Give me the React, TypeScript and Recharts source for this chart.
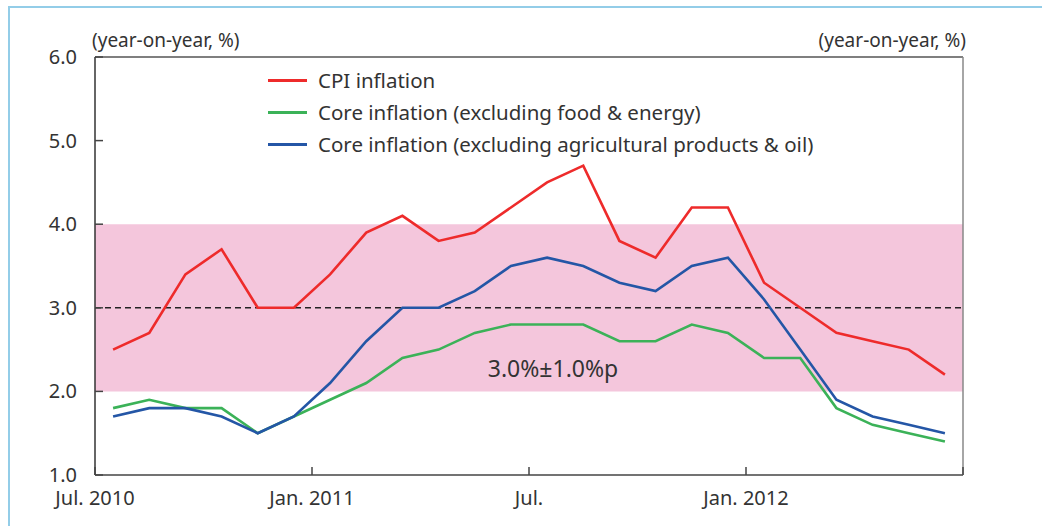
import React from "react";
import {
  LineChart,
  Line,
  XAxis,
  YAxis,
  ReferenceArea,
  ReferenceLine,
} from "recharts";

// monthly, Jul. 2010 - Jun. 2012
const months = [
  "2010-07", "2010-08", "2010-09", "2010-10", "2010-11", "2010-12",
  "2011-01", "2011-02", "2011-03", "2011-04", "2011-05", "2011-06",
  "2011-07", "2011-08", "2011-09", "2011-10", "2011-11", "2011-12",
  "2012-01", "2012-02", "2012-03", "2012-04", "2012-05", "2012-06",
];

const cpi = [
  2.5, 2.7, 3.4, 3.7, 3.0, 3.0, 3.4, 3.9, 4.1, 3.8, 3.9, 4.2,
  4.5, 4.7, 3.8, 3.6, 4.2, 4.2, 3.3, 3.0, 2.7, 2.6, 2.5, 2.2,
];

const coreFoodEnergy = [
  1.8, 1.9, 1.8, 1.8, 1.5, 1.7, 1.9, 2.1, 2.4, 2.5, 2.7, 2.8,
  2.8, 2.8, 2.6, 2.6, 2.8, 2.7, 2.4, 2.4, 1.8, 1.6, 1.5, 1.4,
];

const coreAgriOil = [
  1.7, 1.8, 1.8, 1.7, 1.5, 1.7, 2.1, 2.6, 3.0, 3.0, 3.2, 3.5,
  3.6, 3.5, 3.3, 3.2, 3.5, 3.6, 3.1, 2.5, 1.9, 1.7, 1.6, 1.5,
];

// tick positions are month boundaries (0 = start of Jul. 2010)
const xTicks = [0, 6, 12, 18, 24];
const xTickLabels = ["Jul. 2010", "Jan. 2011", "Jul.", "Jan. 2012", ""];
const yTicks = [1, 2, 3, 4, 5, 6];

const series = [
  { key: "cpi", name: "CPI inflation", color: "#ee2b2b" },
  { key: "coreFE", name: "Core inflation (excluding food & energy)", color: "#3bb258" },
  { key: "coreAO", name: "Core inflation (excluding agricultural products & oil)", color: "#2456a6" },
];

const data = months.map((m, i) => ({
  month: m,
  x: i + 0.5,
  cpi: cpi[i],
  coreFE: coreFoodEnergy[i],
  coreAO: coreAgriOil[i],
}));

const FONT = "'Noto Sans', sans-serif";
const TEXT = "#333";

const XTick = ({ x, y, payload }: any) => {
  const idx = xTicks.indexOf(payload.value);
  return (
    <g>
      <line x1={x} x2={x} y1={y} y2={y - 8} stroke="#444" strokeWidth={1.5} />
      <text x={x} y={y + 30} textAnchor="middle" fill={TEXT} fontSize={20} fontFamily={FONT}>
        {xTickLabels[idx]}
      </text>
    </g>
  );
};

const LeftTick = ({ x, y, payload }: any) => (
  <g>
    <line x1={x} x2={x + 8} y1={y} y2={y} stroke="#444" strokeWidth={1.5} />
    <text x={x - 18} y={y + 7} textAnchor="end" fill={TEXT} fontSize={20} fontFamily={FONT}>
      {payload.value.toFixed(1)}
    </text>
  </g>
);

const RightTick = ({ x, y, payload }: any) => (
  <g>
    <line x1={x - 8} x2={x} y1={y} y2={y} stroke="#888" strokeWidth={1.5} />
    <text x={x + 20} y={y + 7} textAnchor="start" fill={TEXT} fontSize={20} fontFamily={FONT}>
      {payload.value.toFixed(1)}
    </text>
  </g>
);

const BandLabel = ({ viewBox }: any) => {
  const { x, y, width, height } = viewBox;
  return (
    <text
      x={x + width / 2 + 24}
      y={y + height - 14}
      textAnchor="middle"
      fill={TEXT}
      fontSize={23}
      fontFamily={FONT}
    >
      3.0%±1.0%p
    </text>
  );
};

export default function App() {
  return (
    <div
      style={{
        position: "absolute",
        left: 0,
        top: 0,
        width: 1042,
        height: 526,
        overflow: "hidden",
        background: "#fff",
      }}
    >
      <div
        style={{
          position: "absolute",
          left: 8,
          top: 6,
          width: 1100,
          height: 600,
          border: "2px solid #93cde8",
        }}
      />
      <LineChart
        width={1042}
        height={526}
        data={data}
        margin={{ top: 57, right: 0, bottom: 11, left: 0 }}
        style={{ position: "absolute", left: 0, top: 0 }}
      >
        <XAxis
          dataKey="x"
          type="number"
          domain={[0, 24]}
          ticks={xTicks}
          interval={0}
          height={40}
          tickSize={0}
          tickMargin={0}
          tick={<XTick />}
          axisLine={{ stroke: "#444", strokeWidth: 1.5 }}
          tickLine={false}
        />
        <YAxis
          yAxisId="left"
          domain={[1, 6]}
          ticks={yTicks}
          width={95}
          tickSize={0}
          tickMargin={0}
          tick={<LeftTick />}
          axisLine={{ stroke: "#333", strokeWidth: 1.5 }}
          tickLine={false}
        />
        <YAxis
          yAxisId="right"
          orientation="right"
          domain={[1, 6]}
          ticks={yTicks}
          width={79}
          tickSize={0}
          tickMargin={0}
          tick={<RightTick />}
          axisLine={{ stroke: "#888", strokeWidth: 1.5 }}
          tickLine={false}
        />
        <ReferenceArea
          yAxisId="left"
          y1={2}
          y2={4}
          fill="#f4c6dc"
          fillOpacity={1}
          stroke="none"
          label={<BandLabel />}
        />
        <ReferenceLine yAxisId="left" y={3} stroke="#222" strokeWidth={1.5} strokeDasharray="6 4" />
        <ReferenceLine yAxisId="left" y={6} stroke="#555" strokeWidth={1.5} />
        {series.map((s) => (
          <Line
            key={s.key}
            yAxisId="left"
            dataKey={s.key}
            name={s.name}
            stroke={s.color}
            strokeWidth={2.6}
            dot={false}
            isAnimationActive={false}
          />
        ))}
      </LineChart>
      <div
        style={{
          position: "absolute",
          left: 92,
          top: 27,
          fontFamily: FONT,
          fontSize: 19,
          color: TEXT,
        }}
      >
        (year-on-year, %)
      </div>
      <div
        style={{
          position: "absolute",
          right: 1042 - 966,
          top: 27,
          fontFamily: FONT,
          fontSize: 19,
          color: TEXT,
        }}
      >
        (year-on-year, %)
      </div>
      <div
        style={{
          position: "absolute",
          left: 268,
          top: 64,
          fontFamily: FONT,
          fontSize: 20.5,
          color: TEXT,
        }}
      >
        {series.map((s) => (
          <div key={s.key} style={{ display: "flex", alignItems: "center", height: 32 }}>
            <div style={{ width: 39, height: 3, background: s.color, marginRight: 11 }} />
            <span>{s.name}</span>
          </div>
        ))}
      </div>
    </div>
  );
}
